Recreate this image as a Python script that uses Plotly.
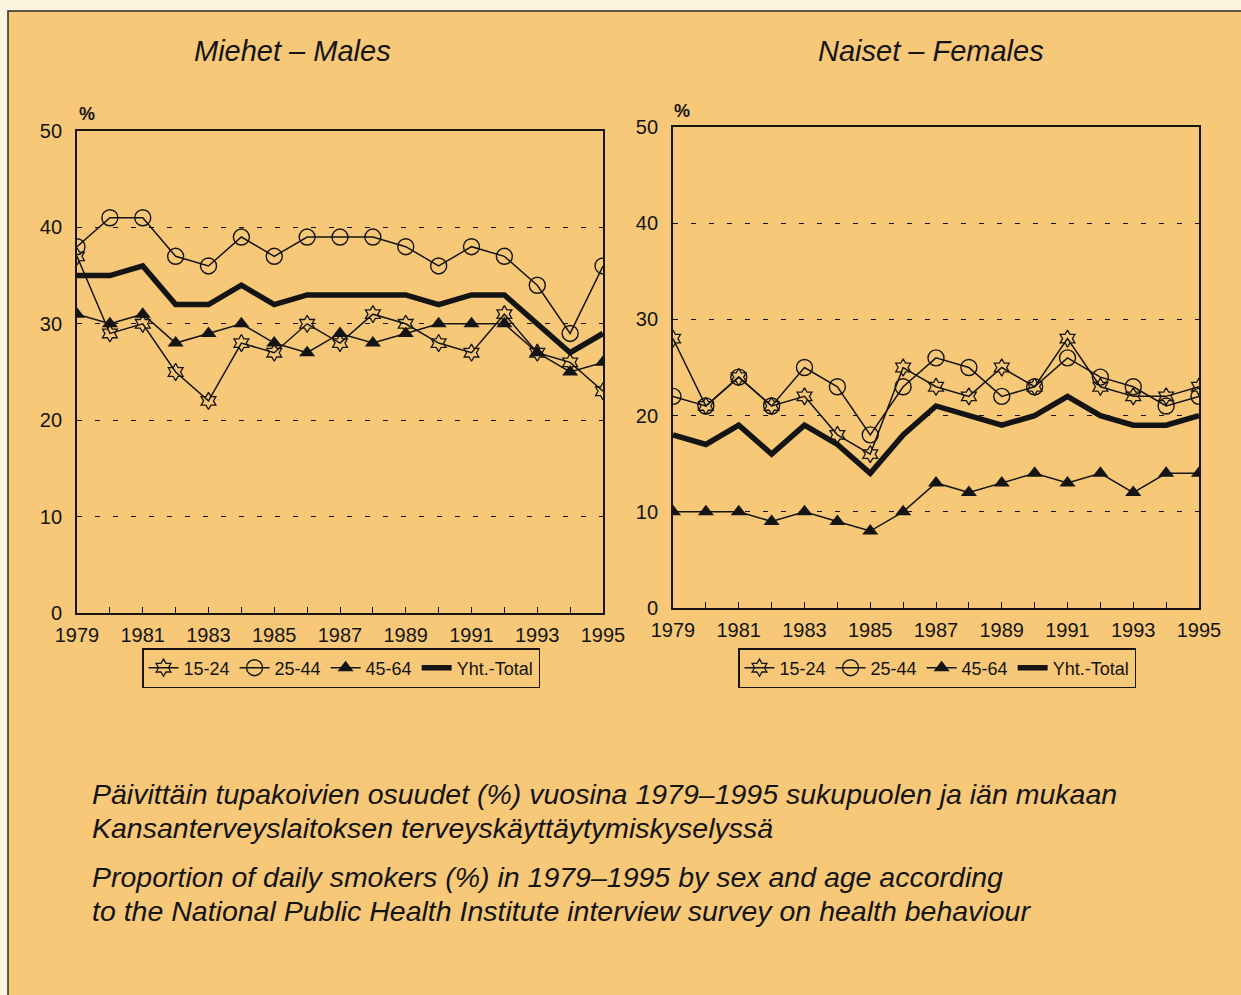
import plotly.graph_objects as go

years = list(range(1979, 1996))
tick_text = [str(y) if (y - 1979) % 2 == 0 else "" for y in years]
y_ticks = [0, 10, 20, 30, 40, 50]

series_names = ["15-24", "25-44", "45-64", "Yht.-Total"]

males_15_24 = [37, 29, 30, 25, 22, 28, 27, 30, 28, 31, 30, 28, 27, 31, 27, 26, 23]
males_25_44 = [38, 41, 41, 37, 36, 39, 37, 39, 39, 39, 38, 36, 38, 37, 34, 29, 36]
males_45_64 = [31, 30, 31, 28, 29, 30, 28, 27, 29, 28, 29, 30, 30, 30, 27, 25, 26]
males_total = [35, 35, 36, 32, 32, 34, 32, 33, 33, 33, 33, 32, 33, 33, 30, 27, 29]

females_15_24 = [28, 21, 24, 21, 22, 18, 16, 25, 23, 22, 25, 23, 28, 23, 22, 22, 23]
females_25_44 = [22, 21, 24, 21, 25, 23, 18, 23, 26, 25, 22, 23, 26, 24, 23, 21, 22]
females_45_64 = [10, 10, 10, 9, 10, 9, 8, 10, 13, 12, 13, 14, 13, 14, 12, 14, 14]
females_total = [18, 17, 19, 16, 19, 17, 14, 18, 21, 20, 19, 20, 22, 20, 19, 19, 20]

panel_titles = ["Miehet – Males", "Naiset – Females"]
caption_lines = [
    "Päivittäin tupakoivien osuudet (%) vuosina 1979–1995 sukupuolen ja iän mukaan",
    "Kansanterveyslaitoksen terveyskäyttäytymiskyselyssä",
    "Proportion of daily smokers (%) in 1979–1995 by sex and age according",
    "to the National Public Health Institute interview survey on health behaviour",
]

W, H = 1241, 995
BG = "#F6C878"
PAGE = "#FBF3DC"
INK = "#141414"
FONT = "Liberation Sans, Arial, sans-serif"


def px(x):
    return x / W


def py(y):
    return (H - y) / H


fig = go.Figure()

panels = [
    ("x", "y", "legend", [males_15_24, males_25_44, males_45_64, males_total]),
    ("x2", "y2", "legend2", [females_15_24, females_25_44, females_45_64, females_total]),
]

for xa, ya, lg, data in panels:
    s15, s25, s45, tot = data
    fig.add_trace(go.Scatter(x=years, y=tot, name=series_names[3], mode="lines",
                             line=dict(color=INK, width=5.5), xaxis=xa, yaxis=ya,
                             legend=lg, legendrank=4))
    fig.add_trace(go.Scatter(x=years, y=s45, name=series_names[2], mode="lines+markers",
                             line=dict(color=INK, width=1.5),
                             marker=dict(symbol="triangle-up", size=14, color=INK),
                             xaxis=xa, yaxis=ya, legend=lg, legendrank=3))
    fig.add_trace(go.Scatter(x=years, y=s25, name=series_names[1], mode="lines+markers",
                             line=dict(color=INK, width=1.5),
                             marker=dict(symbol="circle", size=16, color="rgba(0,0,0,0)",
                                         line=dict(color=INK, width=1.4)),
                             xaxis=xa, yaxis=ya, legend=lg, legendrank=2))
    fig.add_trace(go.Scatter(x=years, y=s15, name=series_names[0], mode="lines+markers",
                             line=dict(color=INK, width=1.5),
                             marker=dict(symbol="hexagram", size=13, color="rgba(0,0,0,0)",
                                         line=dict(color=INK, width=1.3)),
                             xaxis=xa, yaxis=ya, legend=lg, legendrank=1))

axis_common = dict(showline=True, linecolor=INK, linewidth=1.8, mirror=True, automargin=False,
                   tickfont=dict(family=FONT, size=20, color=INK), zeroline=False)

xcommon = dict(axis_common, range=[1979, 1995], tickvals=years, ticktext=tick_text,
               ticks="inside", ticklen=6, tickcolor=INK, showgrid=False, tickangle=0,
               ticklabelstandoff=3)
ycommon = dict(axis_common, range=[0, 50], tickvals=y_ticks, ticks="", showgrid=True,
               gridcolor=INK, gridwidth=1, griddash="5px,13px", ticklabelstandoff=9)

fig.update_layout(
    width=W, height=H,
    paper_bgcolor=PAGE, plot_bgcolor="rgba(0,0,0,0)",
    margin=dict(l=0, r=0, t=0, b=0, autoexpand=False),
    font=dict(family=FONT, color=INK),
    xaxis=dict(xcommon, domain=[px(77), px(603)], anchor="y"),
    yaxis=dict(ycommon, domain=[py(613), py(131)], anchor="x"),
    xaxis2=dict(xcommon, domain=[px(673), px(1199)], anchor="y2"),
    yaxis2=dict(ycommon, domain=[py(608), py(127)], anchor="x2"),
    legend=dict(orientation="h", x=px(341), y=py(668), xanchor="center", yanchor="middle",
                bordercolor=INK, borderwidth=1.5, bgcolor="rgba(0,0,0,0)",
                font=dict(family=FONT, size=18, color=INK), itemwidth=30,
                tracegroupgap=0, traceorder="normal"),
    legend2=dict(orientation="h", x=px(937), y=py(668), xanchor="center", yanchor="middle",
                 bordercolor=INK, borderwidth=1.5, bgcolor="rgba(0,0,0,0)",
                 font=dict(family=FONT, size=18, color=INK), itemwidth=30,
                 tracegroupgap=0, traceorder="normal"),
    showlegend=True,
)

fig.add_shape(type="rect", xref="paper", yref="paper", x0=px(8), x1=px(1250), y0=py(1005), y1=py(11),
              fillcolor=BG, line=dict(color="#2a2a2a", width=1.5), layer="below")

fig.add_annotation(text=panel_titles[0], x=px(292), y=py(51), xref="paper", yref="paper",
                   xanchor="center", yanchor="middle", showarrow=False,
                   font=dict(family=FONT, size=29, color=INK, style="italic"))
fig.add_annotation(text=panel_titles[1], x=px(931), y=py(51), xref="paper", yref="paper",
                   xanchor="center", yanchor="middle", showarrow=False,
                   font=dict(family=FONT, size=29, color=INK, style="italic"))

fig.add_annotation(text="%", x=px(87), y=py(114), xref="paper", yref="paper", showarrow=False,
                   xanchor="center", yanchor="middle",
                   font=dict(family=FONT, size=18, color=INK, weight="bold"))
fig.add_annotation(text="%", x=px(682), y=py(111), xref="paper", yref="paper", showarrow=False,
                   xanchor="center", yanchor="middle",
                   font=dict(family=FONT, size=18, color=INK, weight="bold"))

for txt, yc in zip(caption_lines, [794, 828, 877, 911]):
    fig.add_annotation(text=txt, x=px(90), y=py(yc), xref="paper", yref="paper", showarrow=False,
                       xanchor="left", yanchor="middle",
                       font=dict(family=FONT, size=28.5, color=INK, style="italic"))

fig.write_html("out.html", post_script="document.body.style.margin='0';",
               config={"displayModeBar": False})
